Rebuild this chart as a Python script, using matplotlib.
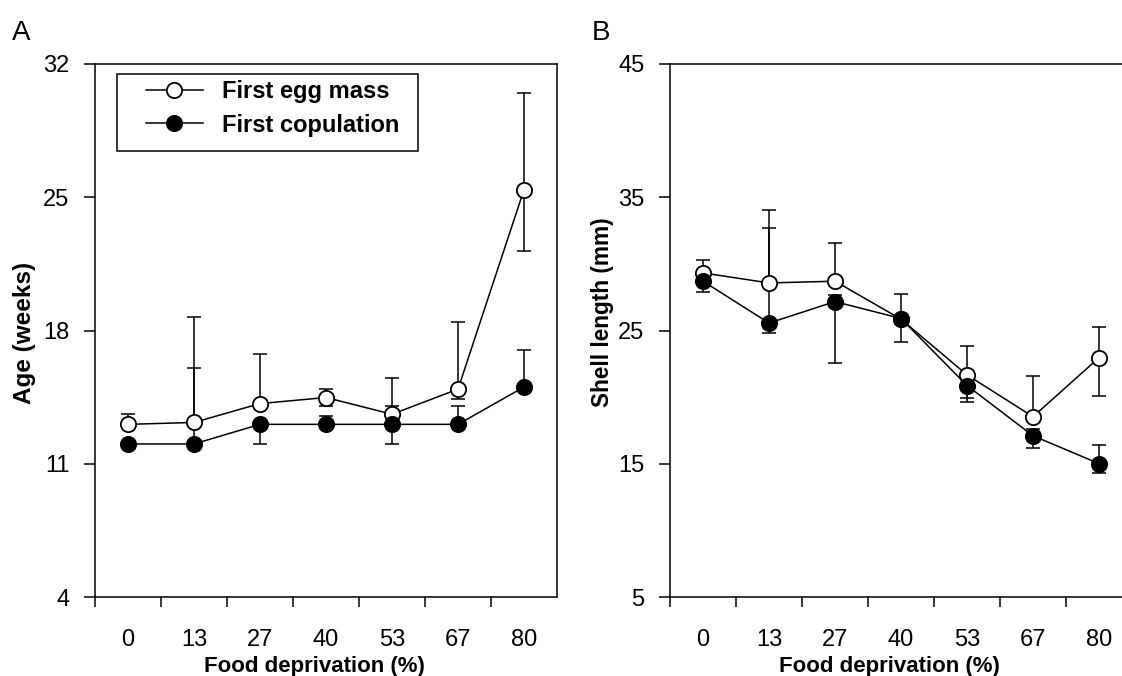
import matplotlib.pyplot as plt
from matplotlib.patches import Rectangle
import numpy as np

plt.rcParams['font.family'] = ['Liberation Sans', 'DejaVu Sans']

# food deprivation levels (%)
deprivation = ['0', '13', '27', '40', '53', '67', '80']

# panel A: age (weeks) at first egg mass / first copulation
age_egg = [13.07, 13.17, 14.16, 14.48, 13.6, 14.92, 25.4]
age_egg_lo = [0.0, 0.0, 0.0, 0.43, 0.0, 0.53, 3.2]
age_egg_hi = [0.55, 5.55, 2.58, 0.44, 1.88, 3.55, 5.1]
age_cop = [12.04, 12.04, 13.07, 13.07, 13.07, 13.07, 15.03]
age_cop_lo = [0.0, 0.0, 1.03, 0.0, 1.03, 0.0, 0.0]
age_cop_hi = [0.0, 3.99, 0.0, 0.42, 0.98, 0.98, 1.92]

# panel B: shell length (mm)
len_egg = [29.32, 28.57, 28.7, 25.85, 21.67, 18.53, 22.96]
len_egg_lo = [0.0, 0.0, 0.0, 0.0, 2.0, 0.0, 2.85]
len_egg_hi = [1.0, 5.5, 2.85, 1.92, 2.15, 3.09, 2.34]
len_cop = [28.7, 25.56, 27.17, 25.9, 20.87, 17.1, 15.01]
len_cop_lo = [0.8, 0.75, 4.59, 1.73, 0.94, 0.93, 0.7]
len_cop_hi = [0.0, 7.12, 0.53, 0.0, 0.0, 0.54, 1.43]

W, H = 1122, 676
fig = plt.figure(figsize=(W/100, H/100), dpi=100)

def px_axes(left, right, top, bottom):
    return fig.add_axes([left/W, 1 - bottom/H, (right - left)/W, (bottom - top)/H])

lw = 1.1
ms = 11

def draw_panel(ax, egg, egg_lo, egg_hi, cop, cop_lo, cop_hi, yticks):
    x = np.arange(len(deprivation))
    ax.errorbar(x, egg, yerr=[egg_lo, egg_hi], fmt='none', ecolor='black',
                elinewidth=lw, capsize=5, capthick=lw, zorder=1)
    ax.errorbar(x, cop, yerr=[cop_lo, cop_hi], fmt='none', ecolor='black',
                elinewidth=lw, capsize=5, capthick=lw, zorder=1)
    l1, = ax.plot(x, egg, '-o', color='black', mfc='white', mec='black',
                  ms=ms, mew=1.3, lw=lw, zorder=3, label='First egg mass')
    l2, = ax.plot(x, cop, '-o', color='black', mfc='black', mec='black',
                  ms=ms, mew=1.3, lw=lw, zorder=4, label='First copulation')

    ax.set_xlim(-0.5, 6.5)
    ax.set_ylim(yticks[0], yticks[-1])
    ax.set_xticks(x)
    ax.set_xticklabels(deprivation)
    ax.set_xticks(np.arange(-0.5, 6), minor=True)
    ax.set_yticks(yticks)
    ax.tick_params(axis='x', which='major', length=0, pad=23, labelsize=17)
    ax.tick_params(axis='x', which='minor', length=7, width=lw, direction='out')
    ax.tick_params(axis='y', length=8, width=lw, direction='out', pad=10.5, labelsize=17)
    for s in ax.spines.values():
        s.set_linewidth(lw)
    return l1, l2

axA = px_axes(95, 557, 64, 597)
h1, h2 = draw_panel(axA, age_egg, age_egg_lo, age_egg_hi,
                    age_cop, age_cop_lo, age_cop_hi, [4, 11, 18, 25, 32])

# legend box drawn separately so the handles can sit further in from the edge
axA.add_patch(Rectangle(((117 - 95)/462, 1 - (151 - 64)/533), 301/462, 77/533,
                        transform=axA.transAxes, facecolor='white', edgecolor='black',
                        lw=lw, zorder=5))
leg = axA.legend(handles=[h1, h2], loc='upper left',
                 bbox_to_anchor=((146 - 95)/462, 1 - (80 - 64)/533),
                 borderaxespad=0, borderpad=0, frameon=False,
                 prop={'size': 17, 'weight': 'bold'},
                 handlelength=2.4, handletextpad=0.8, labelspacing=0.45)
leg.set_zorder(6)

axB = px_axes(670, 1132, 64, 597)
draw_panel(axB, len_egg, len_egg_lo, len_egg_hi,
           len_cop, len_cop_lo, len_cop_hi, [5, 15, 25, 35, 45])

# axis titles
fig.text(24/W, 1 - 333/H, 'Age (weeks)', rotation=90, ha='center', va='center',
         fontsize=17.5, fontweight='bold')
fig.text(602/W, 1 - 312/H, 'Shell length (mm)', rotation=90, ha='center', va='center',
         fontsize=16.3, fontweight='bold')
fig.text(314/W, 1 - 672/H, 'Food deprivation (%)', ha='center', va='baseline',
         fontsize=16, fontweight='bold')
fig.text(889/W, 1 - 672/H, 'Food deprivation (%)', ha='center', va='baseline',
         fontsize=16, fontweight='bold')

# panel letters
fig.text(12/W, 1 - 40/H, 'A', fontsize=20, va='baseline')
fig.text(592/W, 1 - 40/H, 'B', fontsize=20, va='baseline')

fig.savefig('out.png', dpi=100)
